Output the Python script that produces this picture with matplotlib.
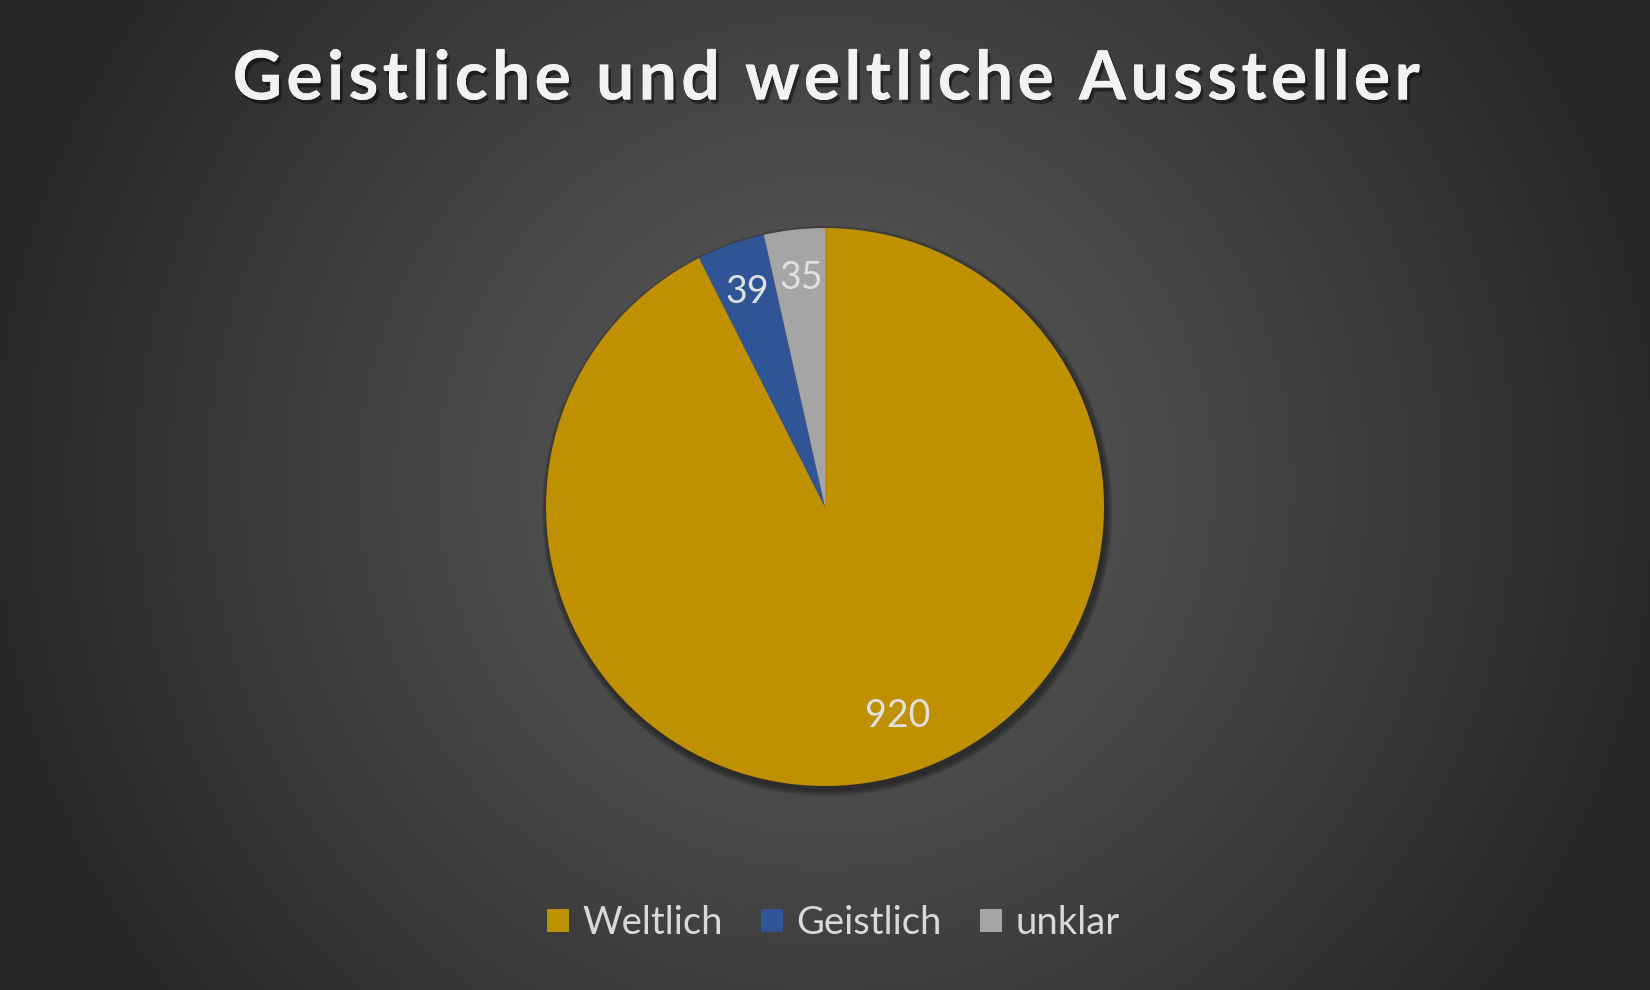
import numpy as np
import matplotlib.pyplot as plt
import matplotlib.patheffects as pe
from matplotlib.patches import Patch, Circle

plt.rcParams["font.family"] = ["Lato", "DejaVu Sans"]

labels = ["Weltlich", "Geistlich", "unklar"]
values = [920, 39, 35]
colors = ["#BF9000", "#2F5597", "#A5A5A5"]
title = "Geistliche und weltliche Aussteller"

W, H = 1650, 990
fig = plt.figure(figsize=(W/100, H/100), dpi=100)

# radial background gradient
bg = fig.add_axes([0, 0, 1, 1]); bg.set_axis_off()
yy, xx = np.mgrid[0:H, 0:W]
r = np.sqrt(((xx-825)/900.0)**2 + ((yy-480)/900.0)**2)
r = np.clip(r/0.95, 0, 1)
c0, c1 = 0x5a/255, 0x26/255
g = c0 + (c1-c0)*r**1.2
bg.imshow(np.dstack([g, g, g]), extent=[0, 1, 0, 1], aspect="auto", zorder=0)
bg.set_xlim(0, 1); bg.set_ylim(0, 1)

# pie
R = 300
ax = fig.add_axes([(825-R)/W, (H-507-R)/H, 2*R/W, 2*R/H])
ax.set_axis_off()
# soft shadow
for k in range(6):
    ax.add_patch(Circle((0.008, -0.014), 1.0 + 0.004*k, color="black", alpha=0.07, zorder=0))
wedges, texts, autotexts = ax.pie(values, colors=colors, startangle=90, counterclock=False,
                                  autopct=lambda p: "%d" % round(p*sum(values)/100),
                                  pctdistance=0.8, radius=1.0, frame=False,
                                  textprops=dict(color="#e0e0e0", fontsize=27))
ax.set_xlim(-R/279, R/279); ax.set_ylim(-R/279, R/279)
autotexts[0].set_position((0.26, -0.75))
autotexts[1].set_position((-0.28, 0.77))
autotexts[2].set_position((-0.085, 0.82))

spaced = "\u200a".join(title)
fig.text(0.5, 1-80/H, spaced, ha="center", va="center", fontsize=49, fontweight="bold",
         color="#f2f2f2",
         path_effects=[pe.withSimplePatchShadow(offset=(2, -3), shadow_rgbFace="black", alpha=0.45),
                       pe.Normal()])

handles = [Patch(facecolor=c, edgecolor="none") for c in colors]
fig.legend(handles, labels, loc="center", bbox_to_anchor=(0.505, 1-923/H), ncol=3,
           frameon=False, fontsize=27.5, labelcolor="#d9d9d9", handlelength=0.58,
           handleheight=0.58, handletextpad=0.35, columnspacing=1.0)

fig.savefig("out.png", dpi=100)
